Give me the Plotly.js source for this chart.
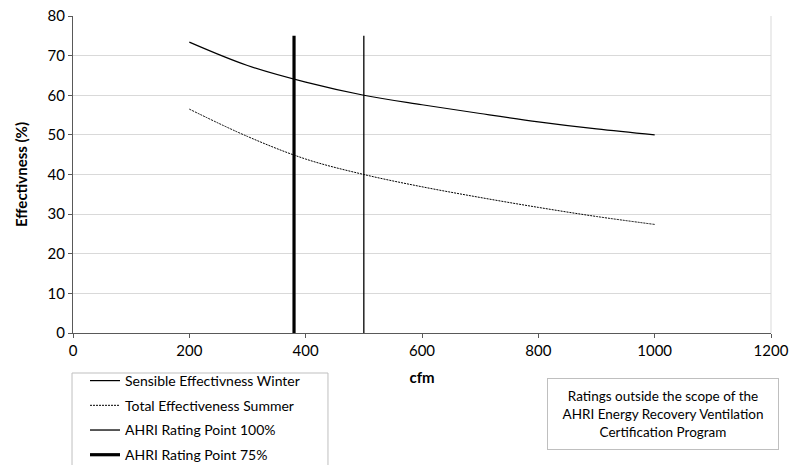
<!DOCTYPE html>
<html>
<head>
<meta charset="utf-8">
<script src="https://cdn.plot.ly/plotly-3.0.1.min.js"></script>
<style>html,body{margin:0;padding:0;background:#fff;}#chart{width:801px;height:465px;}</style>
</head>
<body>
<div id="chart"></div>
<script>
const cfm = [200, 300, 400, 500, 600, 700, 800, 900, 1000];
const sensibleWinter = [73.4, 67.5, 63.3, 60.0, 57.6, 55.4, 53.3, 51.5, 50.0];
const totalSummer = [56.5, 49.6, 43.9, 40.0, 36.9, 34.2, 31.7, 29.4, 27.4];
const ratingCfm100 = [500, 500];
const ratingCfm75 = [380, 380];
const ratingRange = [0, 75];
const xTicks = [0, 200, 400, 600, 800, 1000, 1200];
const yTicks = [0, 10, 20, 30, 40, 50, 60, 70, 80];
const names = ["Sensible Effectivness Winter", "Total Effectiveness Summer", "AHRI Rating Point 100%", "AHRI Rating Point 75%"];
const noteText = "Ratings outside the scope of the<br>AHRI Energy Recovery Ventilation<br>Certification Program";

const FONT = "Lato, 'Open Sans', sans-serif";

const traces = [
  {x: cfm, y: sensibleWinter, name: names[0], mode: "lines", line: {color: "#000", width: 1.2, shape: "spline"}, legendgroup: "a"},
  {x: cfm, y: totalSummer, name: names[1], mode: "lines", line: {color: "#000", width: 1, dash: "2px,1px", shape: "spline"}, legendgroup: "b"},
  {x: ratingCfm100, y: ratingRange, name: names[2], mode: "lines", line: {color: "#000", width: 1.3}, legendgroup: "c"},
  {x: ratingCfm75, y: ratingRange, name: names[3], mode: "lines", line: {color: "#000", width: 3.2}, legendgroup: "d"}
];

const layout = {
  width: 801, height: 465,
  margin: {l: 73, r: 30, t: 16, b: 132, autoexpand: false},
  paper_bgcolor: "#fff", plot_bgcolor: "#fff",
  font: {family: FONT, color: "#000", size: 15},
  showlegend: true,
  legend: {
    x: 0.0172, y: -0.101, xanchor: "left", yanchor: "top",
    borderwidth: 0, bgcolor: "rgba(0,0,0,0)",
    font: {family: FONT, size: 14, color: "#000"},
    itemwidth: 30, tracegroupgap: 3.5, traceorder: "grouped"
  },
  xaxis: {
    range: [0, 1200], tickvals: xTicks, ticktext: xTicks.map(String),
    showgrid: false, zeroline: false,
    showline: true, linecolor: "#595959", linewidth: 1,
    ticks: "outside", ticklen: 4, tickcolor: "#595959",
    tickfont: {family: FONT, size: 15},
    title: {text: "<b>cfm</b>", font: {family: FONT, size: 15}, standoff: 14}
  },
  yaxis: {
    range: [0, 80], tickvals: yTicks, ticktext: yTicks.map(String),
    showgrid: true, gridcolor: "#d9d9d9", gridwidth: 1,
    zeroline: false,
    showline: true, linecolor: "#595959", linewidth: 1,
    ticks: "outside", ticklen: 4, tickcolor: "#595959",
    tickfont: {family: FONT, size: 15},
    title: {text: "<b>Effectivness (%)</b>", font: {family: FONT, size: 15}, standoff: 16}
  },
  shapes: [
    {type: "line", xref: "paper", yref: "paper", x0: 1, x1: 1, y0: 0, y1: 1, line: {color: "#d9d9d9", width: 1}},
    {type: "rect", xref: "paper", yref: "paper", x0: -0.0014, x1: 0.3653, y0: -0.1262, y1: -0.5, line: {color: "#bfbfbf", width: 1}, fillcolor: "rgba(0,0,0,0)", layer: "below"}
  ],
  annotations: [
    {
      xref: "paper", yref: "paper", x: 0.845, y: -0.255, xanchor: "center", yanchor: "middle",
      text: noteText, showarrow: false, align: "center",
      font: {family: FONT, size: 13.5, color: "#000"},
      bordercolor: "#bfbfbf", borderwidth: 1, borderpad: 4,
      width: 222, height: 62, bgcolor: "#fff"
    }
  ]
};

Plotly.newPlot("chart", traces, layout, {displayModeBar: false, staticPlot: true});
</script>
</body>
</html>
